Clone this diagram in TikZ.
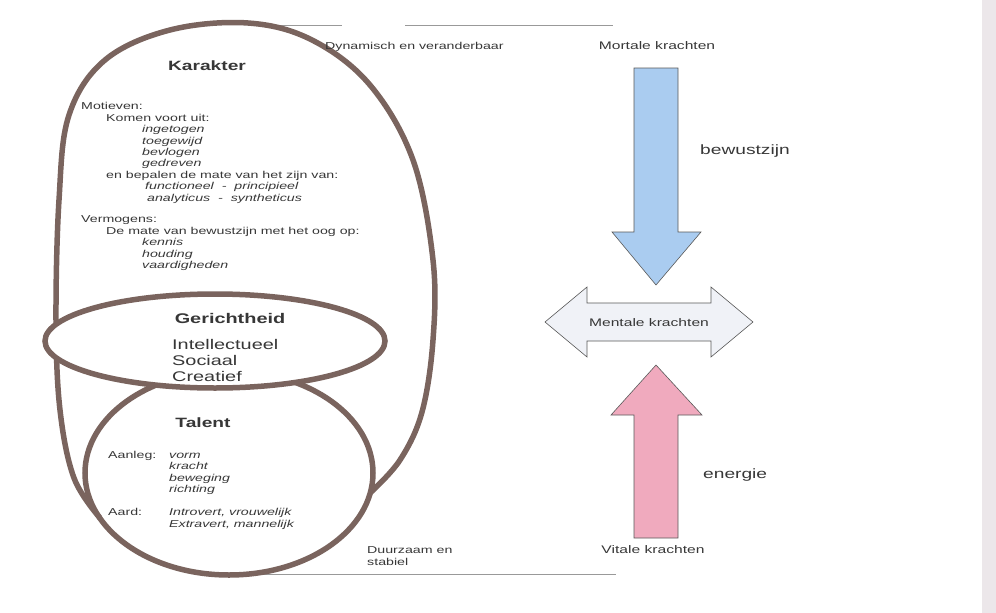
\documentclass[tikz,border=0pt]{standalone}
\usepackage{fontspec}
\setmainfont[FakeStretch=1.42]{Liberation Sans}
\usetikzlibrary{calc,positioning}

\definecolor{eggbrown}{RGB}{122,100,94}
\definecolor{txtgray}{RGB}{55,55,55}
\definecolor{arrowblue}{RGB}{170,204,240}
\definecolor{arrowpink}{RGB}{240,170,190}
\definecolor{arrowpale}{RGB}{240,242,247}
\definecolor{edgegray}{RGB}{236,231,234}

\tikzset{
  shell/.style={line width=5.5pt, draw=eggbrown},
  txt/.style={inner sep=0pt, anchor=base west, text=txtgray, font=\fontsize{10}{12}\selectfont},
  kop/.style={inner sep=0pt, text=txtgray, font=\fontsize{13.5}{16}\selectfont\bfseries},
  pijl/.style={draw=gray!70!black, line width=0.6pt, line join=miter},
  rule/.style={draw=gray!80, line width=0.8pt}
}

\begin{document}
\begin{tikzpicture}[x=1pt,y=-1pt]
        \useasboundingbox (0,0) rectangle (996,613);
        \fill[edgegray] (982,0) rectangle (996,613);

        % lijnen boven en onder
        \draw[rule] (250,25) -- (342,25);
        \draw[rule] (405,25) -- (613,25);
        \draw[rule] (229,574) -- (616,574);

        % ei, talent en gerichtheid
        \coordinate (tc) at (229,473);
        \coordinate (gc) at (215,341);
        \draw[shell] (tc) ellipse[x radius=144, y radius=102];
        \draw[shell] plot[smooth, tension=0.6] coordinates {
              (100,518) (74,478) (60,410) (56,320) (59,200) (69,115)
              (105,60) (170,30) (248,23) (312,40) (370,85) (413,160)
              (433,260) (433,340) (422,412) (400,460) (370,493)};
        \draw[shell, fill=white] (gc) ellipse[x radius=170, y radius=47];

        % Karakter
        \node[kop] (karakter) at (207,66) {Karakter};
        \foreach \x/\y/\t [count=\i] in
        {81/109/{Motieven:},
         106/121/{Komen voort uit:},
         142/132/{\textit{ingetogen}},
         142/144/{\textit{toegewijd}},
         142/155/{\textit{bevlogen}},
         142/166/{\textit{gedreven}},
         106/178/{en bepalen de mate van het zijn van:},
         145/189/{\textit{functioneel \ - \ principieel}},
         147/201/{\textit{analyticus \ - \ syntheticus}},
         81/222/{Vermogens:},
         106/234/{De mate van bewustzijn met het oog op:},
         142/245/{\textit{kennis}},
         142/257/{\textit{houding}},
         142/268/{\textit{vaardigheden}}
        }
        {
            \node[txt] (kar\i) at (\x,\y) {\t};
        };

        % Gerichtheid
        \node[kop, font=\fontsize{14}{16}\selectfont\bfseries] (gericht) at (230,318) {Gerichtheid};
        \foreach \y/\t [count=\i] in {349/Intellectueel, 365/Sociaal, 381/Creatief}
        {
            \node[txt, font=\fontsize{14}{16}\selectfont] (ger\i) at (172,\y) {\t};
        };

        % Talent
        \node[kop] (talent) at (203,423) {Talent};
        \foreach \x/\y/\t [count=\i] in
        {108/458/{Aanleg:},
         169/458/{\textit{vorm}},
         169/469/{\textit{kracht}},
         169/481/{\textit{beweging}},
         169/492/{\textit{richting}},
         108/515/{Aard:},
         169/515/{\textit{Introvert, vrouwelijk}},
         169/527/{\textit{Extravert, mannelijk}}
        }
        {
            \node[txt] (tal\i) at (\x,\y) {\t};
        };

        % rechterkant
        \node[txt] (dynamisch) at (325,49) {Dynamisch en veranderbaar};
        \node[txt] (duurzaam) at (367,553) {Duurzaam en};
        \node[txt] (stabiel) at (367,565) {stabiel};
        \node[txt, anchor=base, font=\fontsize{11}{13}\selectfont] (mortaal) at (657,49) {Mortale krachten};
        \node[txt, anchor=base, font=\fontsize{11}{13}\selectfont] (vitaal) at (653,553) {Vitale krachten};

        \draw[pijl, fill=arrowblue] (634,68) -- (678,68) -- (678,232) -- (701,232)
              -- (656,285) -- (612,232) -- (634,232) -- cycle;
        \draw[pijl, fill=arrowpink] (634,538) -- (678,538) -- (678,415) -- (702,415)
              -- (656,365) -- (611,415) -- (634,415) -- cycle;
        \draw[pijl, fill=arrowpale] (545,322) -- (587,287) -- (587,303) -- (711,303)
              -- (711,287) -- (753,322) -- (711,357) -- (711,341) -- (587,341)
              -- (587,357) -- cycle;
        \node[txt, anchor=base, font=\fontsize{11}{13}\selectfont] (mentaal) at (649,326) {Mentale krachten};

        \node[txt, font=\fontsize{13.5}{16}\selectfont] (bewust) at (700,154) {bewustzijn};
        \node[txt, font=\fontsize{13.5}{16}\selectfont] (energie) at (703,478) {energie};
\end{tikzpicture}
\end{document}
